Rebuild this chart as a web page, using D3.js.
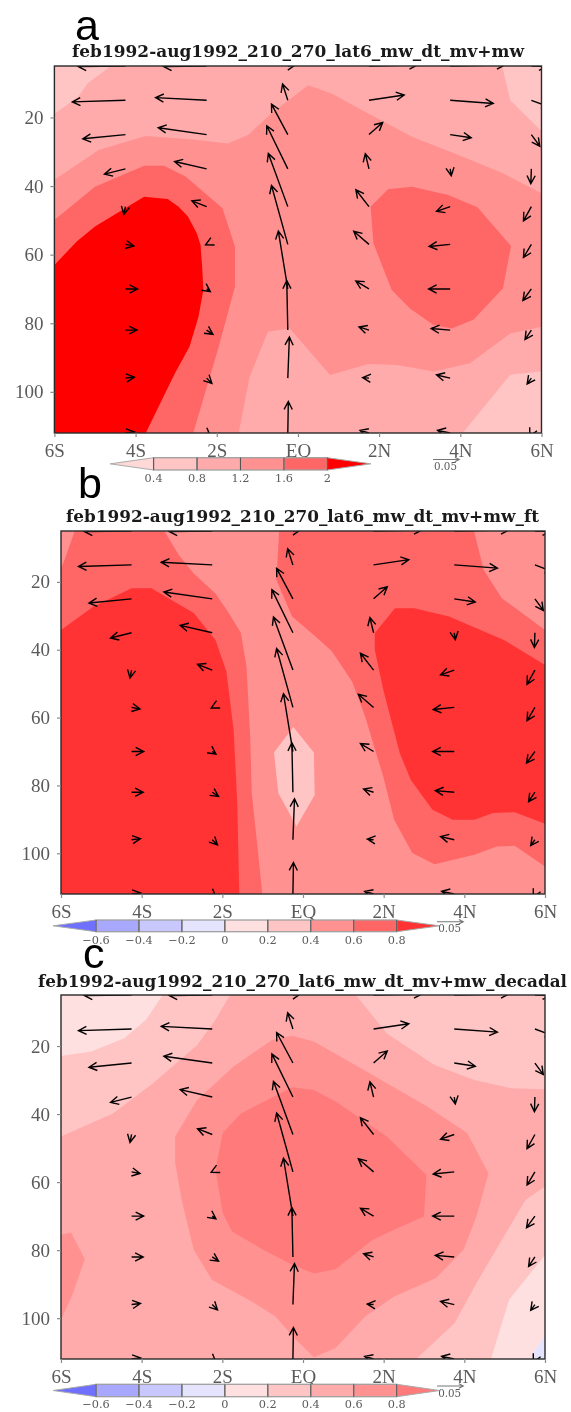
<!DOCTYPE html>
<html><head><meta charset="utf-8">
<script src="https://cdn.jsdelivr.net/npm/d3@7"></script>
<style>
html,body{margin:0;padding:0;background:#fff}
svg{display:block;filter:blur(0.45px)}
</style></head><body>
<svg id="chart" width="571" height="1412"></svg>
<script>
// ---- Axis ticks
const latTicks = [-6,-4,-2,0,2,4,6];
const latTickLabels = ["6S","4S","2S","EQ","2N","4N","6N"];
const depthTicks = [20,40,60,80,100];

// ---- Vector grid (same current field in all panels), units 1e-3
const vecLats = [-4.25,-2.25,-0.25,1.75,3.75,5.75];
const vecDepths = [5,15,25,35,46,57,70,82,96,112];
const vecU = [
 [-90,-82,14,92,104,30],
 [-101,-97,-10,67,82,35],
 [-81,-92,-31,26,40,16],
 [-40,-61,-40,-7,2,-1],
 [-3,-28,-37,-25,-26,-15],
 [16,-2,-31,-29,-40,-15],
 [23,7,-18,-25,-41,-16],
 [22,12,-2,-19,-36,-12],
 [17,10,3,-12,-26,-8],
 [17,7,1,-17,-24,-3]];
const vecV = [
 [1,1,-2,-2,-2,1],
 [3,-5,-31,-10,6,13],
 [8,-13,-58,-23,6,22],
 [10,-14,-82,-29,13,28],
 [15,-11,-101,-32,9,27],
 [3,1,-112,-25,4,25],
 [0,5,-110,-15,0,22],
 [0,8,-94,-6,-3,18],
 [-2,10,-78,-1,-6,11],
 [-2,6,-60,-5,-5,6]];
const refVector = 50;

// ---- Colourbar levels
const levelsA = [0.4,0.8,1.2,1.6,2];
const levelsBC = [-0.6,-0.4,-0.2,0,0.2,0.4,0.6,0.8];
const levelLabelsA = ["0.4","0.8","1.2","1.6","2"];
const levelLabelsBC = ["-0.6","-0.4","-0.2","0","0.2","0.4","0.6","0.8"];

// ---- Panel a filled contours: [lat, depth]
const aLightTL = [[-6,5],[-4.64,5],[-4.69,5.7],[-5.18,10],[-5.41,14],[-6,19]];
const aLightTR = [[5.03,5],[5.23,15],[6,24],[6,5]];
const aLightBR = [[4.06,112],[5.23,95],[6,94],[6,112]];
const aMid = [[-6,38.2],[-4.91,29.5],[-3.75,25.4],[-2.58,26.4],[-1.73,27.6],[-1.23,25.1],[-.65,18.8],[.25,10.6],[.83,13],[1.64,18.3],[2.81,25.6],[3.97,31],[5.05,36.3],[6,42.1],[6,81],[5.23,83],[4.24,91.7],[3.34,94.1],[2.45,92.2],[1.73,91.9],[.79,95.1],[-.2,81.5],[-.74,82.5],[-1.19,95.6],[-1.46,112],[-6,112]];
const aHighL = [[-6,49.9],[-5,40.2],[-3.79,34.1],[-3.3,34.1],[-2.76,37.3],[-1.86,46.5],[-1.55,57.7],[-1.55,69.3],[-1.95,86.8],[-2.58,112],[-6,112]];
const aHighR = [[1.79,46],[2.22,40.9],[2.81,40.2],[3.7,42.6],[4.42,46.2],[5.25,57.5],[5.05,69.8],[4.33,78.9],[3.79,81.5],[3.34,80.5],[2.76,75.7],[2.31,70.3],[1.86,56.7]];
const aTop = [[-6,63],[-5.45,56.2],[-5,51.8],[-3.79,43.1],[-3.21,43.8],[-2.94,46],[-2.71,48.9],[-2.49,53.8],[-2.4,57.2],[-2.36,63.5],[-2.33,70.3],[-2.45,78.1],[-2.67,86.8],[-3.03,94.6],[-3.75,112],[-6,112]];

// ---- Panel b filled contours
const bHighL = [[-5.66,5],[-3.44,5],[-3.08,12.1],[-2.71,17.5],[-2.17,23.4],[-1.86,28.8],[-1.54,35.1],[-1.4,45],[-1.31,65.6],[-1.27,82.3],[-1.13,98],[-1.01,112],[-6,112],[-6,16],[-5.91,13.5]];
const bHighR = [[-.59,5],[4.24,5],[4.48,16.5],[4.93,24.8],[6,34.2],[6,103.9],[5.25,97.8],[4.8,98],[4.25,100.4],[3.26,103.2],[2.71,99.9],[2.26,90.1],[1.99,77.4],[1.54,59.7],[1.22,49.4],[.72,40.5],[.36,36.6],[-.27,30.2],[-.66,19.4]];
const bTopL = [[-6,34.2],[-5.2,27.3],[-4.25,21.9],[-3.76,21.9],[-2.71,29.2],[-2.17,37.1],[-1.9,46.4],[-1.72,63.6],[-1.63,85.2],[-1.58,112],[-6,112]];
const bTopR = [[1.78,35.1],[2.28,27.8],[2.76,27.8],[3.62,30.2],[4.98,37.1],[6,44.5],[6,91.3],[5.25,87.9],[4.71,88.1],[4.25,90.1],[3.71,90.1],[3.21,87.2],[2.67,78.3],[2.4,70.5],[1.99,51.8],[1.78,40]];
const bDiamond = [[-.24,62.8],[.27,70.3],[.29,82.8],[-.16,92.1],[-.61,82.3],[-.72,70.3]];

// ---- Panel c filled contours
const cLightTL = [[-6,5],[-3.48,5],[-3.89,12.3],[-4.43,17.7],[-5.25,21.6],[-6,22.9]];
const cLightBR = [[4.66,112],[5.11,94.6],[6,81.4],[6,112]];
const cBlue = [[6,105.3],[5.7,110.2],[5.7,112],[6,112]];
const cBand = [[-6,46.6],[-4.71,39.8],[-3.71,30.9],[-2.62,19.7],[-2.17,12.3],[-1.81,5],[1.31,5],[2.08,16.3],[3.26,25.6],[4.25,30],[5.16,32.4],[6,32.7],[6,61.3],[5.52,65.2],[4.93,77],[4.3,89.7],[3.76,101.4],[2.81,112],[-6,112]];
const cMid = [[-3.17,46.6],[-2.62,35.8],[-1.72,26],[-.77,18.2],[-.27,17],[.27,18.7],[1.36,26],[3.08,37.8],[4.07,45.6],[4.6,57.4],[4.3,70.1],[3.98,79.9],[3.3,88.2],[2.26,93.6],[1.54,99.5],[.81,108.8],[.27,111.5],[-.18,106.3],[-.68,99.5],[-1.27,95.1],[-2.26,88.7],[-2.71,79.9],[-2.99,66.2],[-3.17,54.4]];
const cBump = [[-6,75.5],[-5.75,74.8],[-5.41,82.6],[-5.7,92.6],[-6,100.5]];
const cTop = [[-1.99,45.6],[-1.54,39.8],[-.27,32.1],[.27,32.9],[.81,36.3],[2.08,46.6],[3.06,57.9],[3,70.1],[2.35,73.5],[1.72,77],[.81,85.6],[.27,86.9],[-.27,84.3],[-.99,79.9],[-1.76,74.5],[-1.99,69.1],[-2.17,56.4]];

// ---- Styles and layout
const paletteA = ["#ffd8d8","#ffc4c4","#ffabab","#ff9191","#ff6666","#ff0000"];
const paletteB = ["#7070ff","#a8a8ff","#c8c8ff","#e4e4ff","#ffe0e0","#ffc4c4","#ff9191","#ff6666","#ff3333"];
const paletteC = ["#7070ff","#a8a8ff","#c8c8ff","#e4e4ff","#ffe0e0","#ffc4c4","#ffabab","#ff9191","#ff7b7b"];

const panels = [
 {letter:"a", lx:75, ly:39.5, title:"feb1992-aug1992_210_270_lat6_mw_dt_mv+mw",
  tx0:72, tx1:524, ty:57, box:[54.4,541.5,66,433],
  levels:levelsA, labels:levelLabelsA, palette:paletteA,
  bg:1.0, fills:[[aLightTL,.6],[aLightTR,.6],[aLightBR,.6],[aMid,1.4],[aHighL,1.8],[aHighR,1.8],[aTop,2.2]],
  cb:{x0:153.6,x1:327.4,y0:457.7,y1:470,ly:482}, ref:{x:433,y:459.5,ly:470,lx:445.5}},
 {letter:"b", lx:78, ly:498, title:"feb1992-aug1992_210_270_lat6_mw_dt_mv+mw_ft",
  tx0:66, tx1:539, ty:521.5, box:[61,545,531,894],
  levels:levelsBC, labels:levelLabelsBC, palette:paletteB,
  bg:.5, fills:[[bHighL,.7],[bHighR,.7],[bTopL,.9],[bTopR,.9],[bDiamond,.3]],
  cb:{x0:96,x1:396.7,y0:920,y1:931.7,ly:944}, ref:{x:437,y:921.7,ly:932,lx:449.6}},
 {letter:"c", lx:83, ly:968, title:"feb1992-aug1992_210_270_lat6_mw_dt_mv+mw_decadal",
  tx0:38, tx1:567, ty:986.5, box:[61,545,995,1359],
  levels:levelsBC, labels:levelLabelsBC, palette:paletteC,
  bg:.3, fills:[[cLightTL,.1],[cLightBR,.1],[cBlue,-.1],[cBand,.5],[cMid,.7],[cBump,.7],[cTop,.9]],
  cb:{x0:96,x1:396.7,y0:1384.3,y1:1396.7,ly:1408}, ref:{x:437,y:1386,ly:1397,lx:449.6}}
];

const svg = d3.select("#chart");
const gray = "#5a5a5a";
const serif = "'DejaVu Serif',serif";
const vecScale = d3.scaleLinear().domain([0,refVector]).range([0,26.3]);

function arrowPath(x0,y0,x1,y1,head){
  const a = Math.atan2(y1-y0,x1-x0), s = 27*Math.PI/180;
  const p = d3.path();
  p.moveTo(x0,y0); p.lineTo(x1,y1);
  p.moveTo(x1-head*Math.cos(a-s),y1-head*Math.sin(a-s));
  p.lineTo(x1,y1);
  p.lineTo(x1-head*Math.cos(a+s),y1-head*Math.sin(a+s));
  return p.toString();
}

panels.forEach((P,i)=>{
  const [L,R,T,B] = P.box;
  const x = d3.scaleLinear().domain([-6,6]).range([L,R]);
  const y = d3.scaleLinear().domain([5,112]).range([T,B]);
  const color = d3.scaleThreshold().domain(P.levels).range(P.palette);
  const g = svg.append("g");
  const clipId = "clip"+i;
  g.append("clipPath").attr("id",clipId).append("rect")
    .attr("x",L).attr("y",T).attr("width",R-L).attr("height",B-T);

  // panel letter and title
  g.append("text").attr("x",P.lx).attr("y",P.ly).text(P.letter)
    .attr("font-family","'Liberation Sans',sans-serif").attr("font-size",43).attr("fill","#000");
  g.append("text").attr("x",P.tx0).attr("y",P.ty).text(P.title)
    .attr("font-family",serif).attr("font-weight","bold").attr("font-size",16).attr("fill","#1a1a1a")
    .attr("textLength",P.tx1-P.tx0).attr("lengthAdjust","spacingAndGlyphs");

  // filled contours
  const plot = g.append("g").attr("clip-path",`url(#${clipId})`);
  plot.append("rect").attr("x",L).attr("y",T).attr("width",R-L).attr("height",B-T).attr("fill",color(P.bg));
  const line = d3.line().x(d=>x(d[0])).y(d=>y(d[1]));
  plot.selectAll("path.band").data(P.fills).join("path").attr("class","band")
    .attr("d",d=>line(d[0])+"Z").attr("fill",d=>color(d[1]));

  // vectors
  const vecs = [];
  vecDepths.forEach((dep,r)=>vecLats.forEach((lat,c)=>vecs.push({lat,dep,u:vecU[r][c],v:vecV[r][c]})));
  plot.selectAll("path.vec").data(vecs).join("path").attr("class","vec")
    .attr("d",d=>arrowPath(x(d.lat),y(d.dep),
        x(d.lat)+Math.sign(d.u)*vecScale(Math.abs(d.u)),
        y(d.dep)+Math.sign(d.v)*vecScale(Math.abs(d.v)),9))
    .attr("fill","none").attr("stroke","#000").attr("stroke-width",1.4);

  // frame
  g.append("rect").attr("x",L).attr("y",T).attr("width",R-L).attr("height",B-T)
    .attr("fill","none").attr("stroke","#2a2a2a").attr("stroke-width",1.4);

  // axes
  const ax = g.append("g").attr("transform",`translate(0,${B})`)
    .call(d3.axisBottom(x).tickValues(latTicks).tickSize(4).tickPadding(6.5)
      .tickFormat((d,k)=>latTickLabels[k]));
  const ay = g.append("g").attr("transform",`translate(${L},0)`)
    .call(d3.axisLeft(y).tickValues(depthTicks).tickSize(4).tickPadding(7));
  [ax,ay].forEach(a=>{
    a.select(".domain").remove();
    a.selectAll("line").attr("stroke","#8a8a8a").attr("stroke-width",1.2);
    a.selectAll("text").attr("font-family","'Liberation Serif',serif").attr("font-size",19).attr("fill",gray);
  });

  // colour bar
  const cb = P.cb, n = P.levels.length;
  const cx = d3.scaleLinear().domain([0,n-1]).range([cb.x0,cb.x1]);
  const mid = (cb.y0+cb.y1)/2, bar = g.append("g");
  const step = cx(1)-cx(0);
  const segs = d3.range(n-1);
  bar.append("path").attr("d",`M${cx(0)-step},${mid}L${cx(0)},${cb.y0}V${cb.y1}Z`)
    .attr("fill",P.palette[0]).attr("stroke","#aaa").attr("stroke-width",1);
  bar.append("path").attr("d",`M${cx(n-1)+step},${mid}L${cx(n-1)},${cb.y0}V${cb.y1}Z`)
    .attr("fill",P.palette[n]).attr("stroke","#aaa").attr("stroke-width",1);
  bar.selectAll("rect.seg").data(segs).join("rect").attr("class","seg")
    .attr("x",d=>cx(d)).attr("width",step).attr("y",cb.y0).attr("height",cb.y1-cb.y0)
    .attr("fill",d=>P.palette[d+1]).attr("stroke","#a0a0a0").attr("stroke-width",1.3);
  bar.selectAll("line").data(P.levels).join("line")
    .attr("x1",(d,k)=>cx(k)).attr("x2",(d,k)=>cx(k)).attr("y1",cb.y0).attr("y2",cb.y1)
    .attr("stroke","#555").attr("stroke-width",1);
  bar.selectAll("text").data(P.labels).join("text")
    .attr("x",(d,k)=>cx(k)).attr("y",cb.ly).attr("text-anchor","middle").text(d=>d.replace("-","\u2212"))
    .attr("font-family",serif).attr("font-size",11.3).attr("fill",gray);

  // reference vector
  const rf = P.ref;
  g.append("path").attr("d",arrowPath(rf.x,rf.y,rf.x+vecScale(refVector),rf.y,5))
    .attr("fill","none").attr("stroke","#777").attr("stroke-width",1.1);
  g.append("text").attr("x",rf.lx).attr("y",rf.ly).attr("text-anchor","middle").text("0.05")
    .attr("font-family",serif).attr("font-size",10.3).attr("fill",gray);
});
</script>
</body></html>
